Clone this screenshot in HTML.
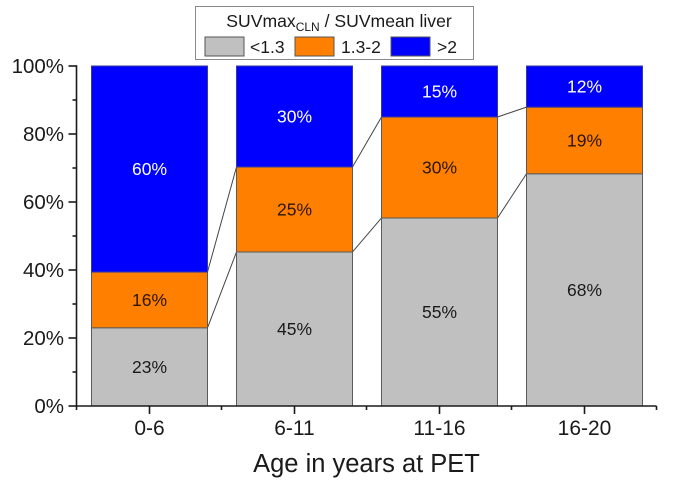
<!DOCTYPE html>
<html>
<head>
<meta charset="utf-8">
<style>
html,body{margin:0;padding:0;background:#fff;}
svg{display:block;font-family:"Liberation Sans",Arial,sans-serif;filter:blur(0.35px);}
</style>
</head>
<body>
<svg id="chart" width="685" height="483" viewBox="0 0 685 483" xmlns="http://www.w3.org/2000/svg">
<g id="connectors"></g>
<g id="bars"></g>
<g id="axes"></g>
<text x="366.5" y="472" font-size="25.5" text-anchor="middle" fill="#1a1a1a">Age in years at PET</text>
<g>
<rect x="195.5" y="6.5" width="278" height="53" fill="#fff" stroke="#8a8a8a" stroke-width="1"/>
<text x="339" y="27" font-size="17.6" text-anchor="middle" fill="#1a1a1a">SUVmax<tspan font-size="12" dy="4">CLN</tspan><tspan dy="-4"> / SUVmean liver</tspan></text>
<rect x="205" y="37" width="39" height="19" fill="#c0c0c0" stroke="#555" stroke-width="1"/>
<text x="250" y="53" font-size="17.5" fill="#1a1a1a">&lt;1.3</text>
<rect x="295" y="37" width="39" height="19" fill="#ff8000" stroke="#555" stroke-width="1"/>
<text x="341" y="53" font-size="17.5" fill="#1a1a1a">1.3-2</text>
<rect x="391" y="37" width="39" height="19" fill="#0000ff" stroke="#555" stroke-width="1"/>
<text x="437" y="53" font-size="17.5" fill="#1a1a1a">&gt;2</text>
</g>
</svg>
<script>
const categories = ["0-6", "6-11", "11-16", "16-20"];
const lowValues = [23, 45.3, 55.3, 68.3];
const midValues = [16.4, 25, 29.7, 19.6];
const highValues = [60.6, 29.7, 15, 12.1];
const lowLabels = ["23%", "45%", "55%", "68%"];
const midLabels = ["16%", "25%", "30%", "19%"];
const highLabels = ["60%", "30%", "15%", "12%"];
const yTicks = [0, 20, 40, 60, 80, 100];
const yMinorTicks = [10, 30, 50, 70, 90];

const NS = "http://www.w3.org/2000/svg";
const Y0 = 406, Y100 = 66, X0 = 76.5, STEP = 145, BAR_W = 116;
function yScale(v) { return Y0 - (Y0 - Y100) * v / 100; }
function xCenter(i) { return X0 + STEP * (i + 0.5) + 0.5; }
function make(parent, tag, attrs, text) {
  const el = document.createElementNS(NS, tag);
  for (const k in attrs) el.setAttribute(k, attrs[k]);
  if (text !== undefined) el.textContent = text;
  parent.appendChild(el);
  return el;
}
const barsG = document.getElementById("bars");
const connG = document.getElementById("connectors");
const axesG = document.getElementById("axes");

categories.forEach(function (cat, i) {
  const cx = xCenter(i);
  const left = cx - BAR_W / 2;
  const segs = [
    { v: lowValues[i], base: 0, fill: "#c0c0c0", txt: lowLabels[i], tc: "#1a1a1a", n: "low" },
    { v: midValues[i], base: lowValues[i], fill: "#ff8000", txt: midLabels[i], tc: "#2a1500", n: "mid" },
    { v: highValues[i], base: lowValues[i] + midValues[i], fill: "#0000ff", txt: highLabels[i], tc: "#ffffff", n: "high" }
  ];
  segs.forEach(function (s) {
    const top = yScale(s.base + s.v);
    const bot = yScale(s.base);
    const r = make(barsG, "rect", { x: left, y: top, width: BAR_W, height: bot - top, fill: s.fill, stroke: s.n === "high" ? "#3a3a9a" : "#5a5a5a", "stroke-width": 1 });
    
    
    const t = make(barsG, "text", { x: cx, y: (top + bot) / 2 + 6, "font-size": 17.5, "text-anchor": "middle", fill: s.tc }, s.txt);
    
    
  });
  if (i < categories.length - 1) {
    const x1 = left + BAR_W, x2 = xCenter(i + 1) - BAR_W / 2;
    const pairs = [
      [lowValues[i], lowValues[i + 1]],
      [lowValues[i] + midValues[i], lowValues[i + 1] + midValues[i + 1]]
    ];
    pairs.forEach(function (p) {
      const l = make(connG, "line", { x1: x1, y1: yScale(p[0]), x2: x2, y2: yScale(p[1]), stroke: "#444", "stroke-width": 1 });
      
      
    });
  }
  const mt = make(axesG, "line", { x1: cx, y1: Y0, x2: cx, y2: Y0 + 8, stroke: "#1a1a1a", "stroke-width": 1.6 });
  
  
  const lab = make(axesG, "text", { x: cx, y: 435, "font-size": 21, "text-anchor": "middle", fill: "#1a1a1a" }, cat);
  
  
});

for (let i = 0; i <= categories.length; i++) {
  const x = X0 + STEP * i;
  const t = make(axesG, "line", { x1: x, y1: Y0, x2: x, y2: Y0 + 4, stroke: "#1a1a1a", "stroke-width": 1.6 });
  
  
}
yTicks.forEach(function (v) {
  const y = yScale(v);
  const t = make(axesG, "line", { x1: X0 - 8, y1: y, x2: X0, y2: y, stroke: "#1a1a1a", "stroke-width": 1.6 });
  
  
  const lab = make(axesG, "text", { x: 64, y: y + 7, "font-size": 20.5, "text-anchor": "end", fill: "#1a1a1a" }, v + "%");
  
  
});
yMinorTicks.forEach(function (v) {
  const y = yScale(v);
  const t = make(axesG, "line", { x1: X0 - 4, y1: y, x2: X0, y2: y, stroke: "#1a1a1a", "stroke-width": 1.6 });
  
  
});
const yAxis = make(axesG, "line", { x1: X0, y1: Y100 - 0.8, x2: X0, y2: Y0 + 0.8, stroke: "#1a1a1a", "stroke-width": 1.6 });


const xAxis = make(axesG, "line", { x1: X0, y1: Y0, x2: X0 + STEP * categories.length, y2: Y0, stroke: "#1a1a1a", "stroke-width": 1.6 });


</script>
</body>
</html>
